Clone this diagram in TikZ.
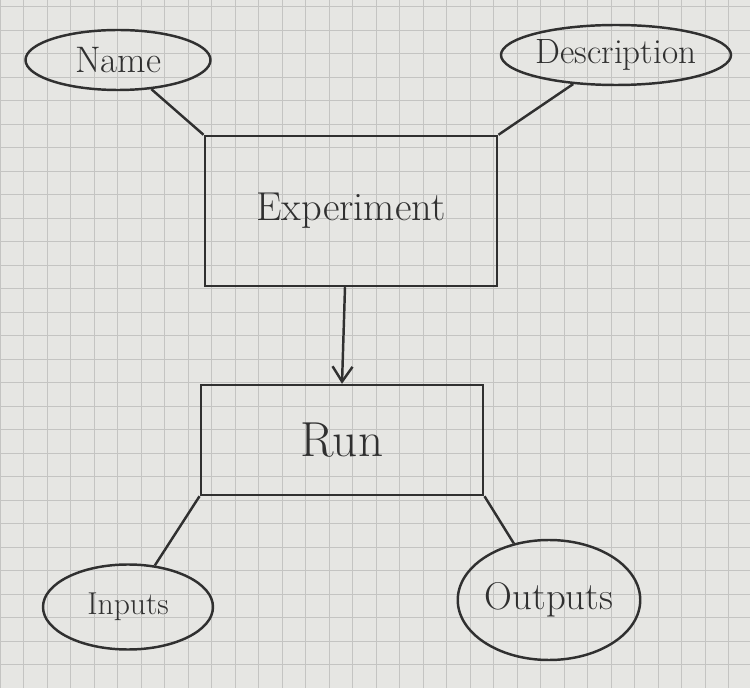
\documentclass[tikz,border=0pt]{standalone}
\usepackage{fontspec}
\usetikzlibrary{shapes.geometric,arrows.meta}
\definecolor{paper}{HTML}{E6E6E3}
\definecolor{gridline}{HTML}{C4C4C2}
\definecolor{pen}{HTML}{303030}
\tikzset{
  entity/.style={draw=pen,line width=1.4pt,rectangle,text=pen},
  attrib/.style={draw=pen,line width=1.4pt,ellipse,inner sep=0pt,text=pen},
  link/.style={draw=pen,line width=1.4pt}
}

\begin{document}
\begin{tikzpicture}
  \useasboundingbox (0,0) rectangle (15,13.76);
  % graph paper
  \fill[paper] (0,0) rectangle (15,13.76);
  \draw[gridline,line width=.4pt] (0,0) grid[step=.47] (15,13.76);
  % boxes
  \node[entity,minimum width=5.85cm,minimum height=3cm] (Exp) at (7.02,9.54)
    {\fontsize{23}{27}\selectfont Experiment};
  \node[entity,minimum width=5.65cm,minimum height=2.2cm] (Run) at (6.84,4.96)
    {\fontsize{28}{32}\selectfont Run};
  % attributes
  \node[attrib,minimum width=3.7cm,minimum height=1.2cm]  (Name)  at (2.36,12.56)
    {\fontsize{21}{25}\selectfont Name};
  \node[attrib,minimum width=4.6cm,minimum height=1.2cm]  (Desc)  at (12.32,12.66)
    {\fontsize{20}{24}\selectfont Description};
  \node[attrib,minimum width=3.4cm,minimum height=1.7cm]  (In)    at (2.56,1.62)
    {\fontsize{18}{22}\selectfont Inputs};
  \node[attrib,minimum width=3.65cm,minimum height=2.4cm] (Out)   at (10.98,1.76)
    {\fontsize{22}{26}\selectfont Outputs};
  % connectors
  \draw[link] (Name) -- (Exp.north west);
  \draw[link] (Desc) -- (Exp.north east);
  \draw[link,-{Straight Barb[length=3mm,width=4mm]}] ([xshift=-1.2mm]Exp.south) -- (Run.north);
  \draw[link] (Run.south west) -- (In);
  \draw[link] (Run.south east) -- (Out);
\end{tikzpicture}
\end{document}
